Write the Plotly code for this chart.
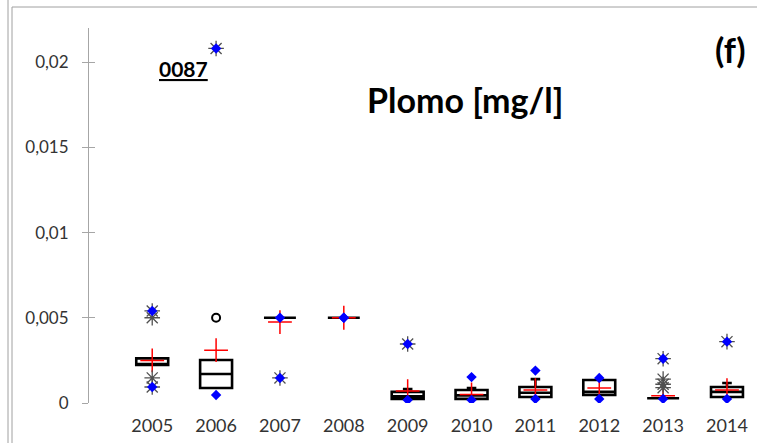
import plotly.graph_objects as go

years = ["2005", "2006", "2007", "2008", "2009", "2010", "2011", "2012", "2013", "2014"]
q1 = [0.00223, 0.00088, 0.0050, 0.0050, 0.00024, 0.00024, 0.00035, 0.00047, 0.00028, 0.00035]
median = [0.00223, 0.0017, 0.0050, 0.0050, 0.0004, 0.00045, 0.0006, 0.00065, 0.00028, 0.00065]
q3 = [0.00262, 0.00252, 0.0050, 0.0050, 0.00065, 0.00076, 0.00094, 0.00135, 0.00028, 0.00094]
lower = [0.00223, 0.00088, 0.0050, 0.0050, 0.00024, 0.00024, 0.00035, 0.00047, 0.00028, 0.00035]
upper = [0.00262, 0.00252, 0.0050, 0.0050, 0.00082, 0.00088, 0.0014, 0.00135, 0.00028, 0.00117]
mean_vals = [0.0025, 0.0031, 0.00475, 0.0050, 0.0007, 0.0005, 0.00076, 0.00088, 0.00043, 0.00076]
max_vals = [0.0054, 0.0208, 0.0050, 0.0050, 0.00346, 0.00152, 0.0019, 0.00147, 0.0026, 0.0036]
min_vals = [0.00094, 0.00047, 0.00147, 0.0050, 0.00018, 0.00018, 0.00024, 0.00024, 0.00024, 0.00024]
# extreme outliers (asterisks): year index, value
ext_year = [0, 0, 0, 0, 1, 2, 4, 8, 8, 8, 8, 9]
ext_vals = [0.0054, 0.0050, 0.00147, 0.00094, 0.0208, 0.00147, 0.00346, 0.0026, 0.0014, 0.0011, 0.0009, 0.0036]
# mild outliers (circles)
mild_year = [1]
mild_vals = [0.0050]

yticks = [0, 0.005, 0.01, 0.015, 0.02]
ytick_text = ["0", "0,005", "0,01", "0,015", "0,02"]

xpos = list(range(len(years)))
FONT = "Lato"

fig = go.Figure()
fig.add_trace(go.Box(
    x=xpos, q1=q1, median=median, q3=q3, lowerfence=lower, upperfence=upper,
    width=0.5, whiskerwidth=0.3, boxpoints=False,
    line=dict(color="black", width=2.6), fillcolor="white",
    showlegend=False, hoverinfo="skip"))
fig.add_trace(go.Scatter(
    x=xpos, y=mean_vals, mode="markers",
    marker=dict(symbol="cross-thin-open", size=17, color="red", line=dict(color="red", width=1.5)),
    showlegend=False))
fig.add_trace(go.Scatter(
    x=ext_year, y=ext_vals, mode="markers",
    marker=dict(symbol="asterisk-open", size=13, color="#505050", line=dict(color="#505050", width=1.3)),
    showlegend=False))
fig.add_trace(go.Scatter(
    x=mild_year, y=mild_vals, mode="markers",
    marker=dict(symbol="circle-open", size=8, color="black", line=dict(color="black", width=2)),
    showlegend=False))
fig.add_trace(go.Scatter(
    x=xpos + xpos, y=max_vals + min_vals, mode="markers",
    marker=dict(symbol="diamond", size=8, color="blue", line=dict(width=0)),
    showlegend=False))
fig.add_trace(go.Scatter(x=[0], y=[0], yaxis="y2", mode="markers",
                         marker=dict(opacity=0), showlegend=False, hoverinfo="skip"))

# pixel helpers for frame lines
L, R, T, B = 89, 0, 28, 40
W, H = 757, 443
pw, ph = W - L - R, H - T - B
def px(x):
    return (x - L) / pw
def py(y):
    return (H - B - y) / ph

shapes = [
    dict(type="line", xref="paper", yref="paper", x0=px(8), x1=px(8), y0=py(0), y1=py(443),
         line=dict(color="#a0a0a0", width=1)),
    dict(type="line", xref="paper", yref="paper", x0=px(12), x1=px(12), y0=py(7), y1=py(443),
         line=dict(color="#a0a0a0", width=1)),
    dict(type="line", xref="paper", yref="paper", x0=px(12), x1=px(757), y0=py(7), y1=py(7),
         line=dict(color="#a0a0a0", width=1)),
]

fig.update_layout(
    width=W, height=H, margin=dict(l=L, r=R, t=T, b=B),
    paper_bgcolor="white", plot_bgcolor="white",
    font=dict(family=FONT, color="#595959", size=18),
    xaxis=dict(range=[-0.99, 9.47], tickvals=xpos, ticktext=years, showgrid=False,
               zeroline=False, showline=False, ticks="", ticklabelstandoff=10,
               tickfont=dict(size=18, color="#333333")),
    yaxis=dict(range=[0, 0.022], tickvals=yticks, ticktext=ytick_text, showgrid=False,
               zeroline=False, showline=True, linecolor="#a6a6a6", linewidth=1,
               ticks="outside", ticklen=6, tickcolor="#a6a6a6", ticklabelstandoff=10,
               tickfont=dict(size=17, color="#333333")),
    yaxis2=dict(range=[0, 0.022], overlaying="y", side="left", tickvals=yticks,
                showticklabels=False, showgrid=False, zeroline=False, showline=False,
                ticks="inside", ticklen=6, tickcolor="#a6a6a6"),
    shapes=shapes,
    annotations=[
        dict(text="<b>Plomo [mg/l]</b>", xref="paper", yref="paper", x=px(465), y=py(100),
             xanchor="center", yanchor="middle", showarrow=False,
             font=dict(family=FONT, size=34, color="black")),
        dict(text="<b>(f)</b>", xref="paper", yref="paper", x=px(730), y=py(49),
             xanchor="center", yanchor="middle", showarrow=False,
             font=dict(family=FONT, size=34, color="black")),
        dict(text="<b><u>0087</u></b>", xref="paper", yref="paper", x=px(183), y=py(68),
             xanchor="center", yanchor="middle", showarrow=False,
             font=dict(family=FONT, size=21, color="black")),
    ],
)

fig.write_html("out.html")
